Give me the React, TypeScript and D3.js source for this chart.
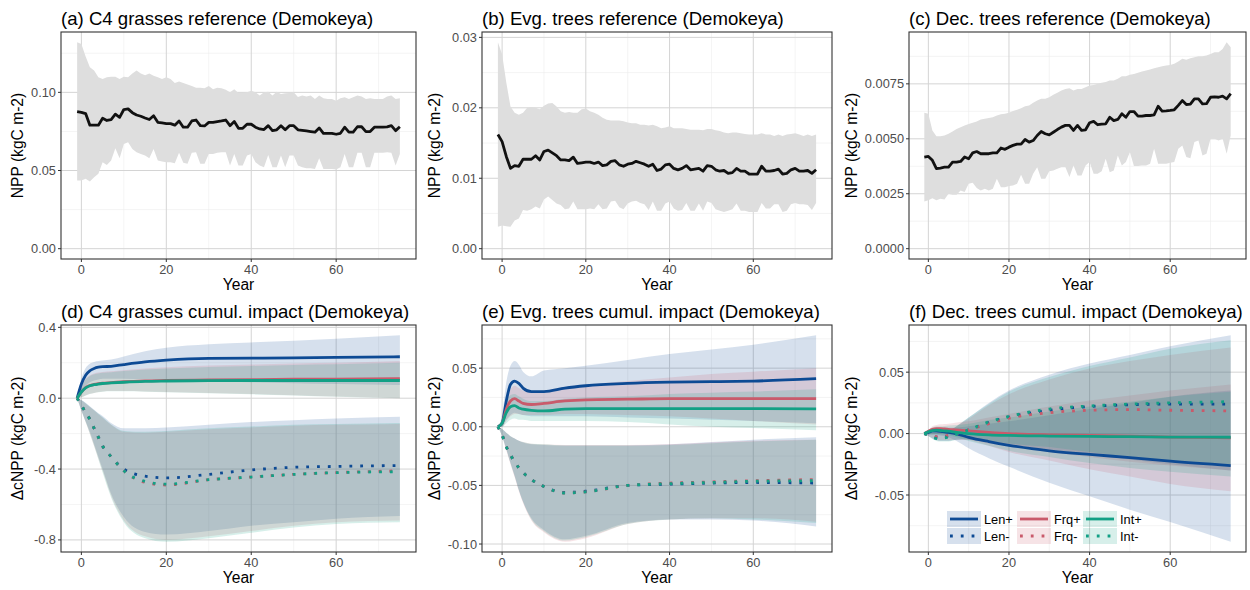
import React from 'react'
import * as d3 from 'd3'

// ---- reference NPP (top row), one value per year -1..75 ----
const years = d3.range(-1, 76)

const c4Mean = [0.0877, 0.0872, 0.0864, 0.079, 0.079, 0.079, 0.0834, 0.082, 0.0826, 0.086, 0.084, 0.089, 0.0894, 0.087, 0.0855, 0.0847, 0.0836, 0.0826, 0.085, 0.0808, 0.0804, 0.08, 0.08, 0.079, 0.0817, 0.0777, 0.0777, 0.0817, 0.0823, 0.0787, 0.0785, 0.0808, 0.0808, 0.0813, 0.0817, 0.0823, 0.0787, 0.0813, 0.077, 0.077, 0.0796, 0.0796, 0.0777, 0.0766, 0.0762, 0.0787, 0.0755, 0.076, 0.0787, 0.076, 0.0787, 0.0787, 0.076, 0.0757, 0.0753, 0.0749, 0.0745, 0.0772, 0.0738, 0.0738, 0.0738, 0.0732, 0.0738, 0.0777, 0.0745, 0.0745, 0.078, 0.078, 0.0749, 0.0749, 0.0777, 0.0777, 0.0777, 0.0779, 0.0787, 0.0755, 0.078]
const c4High = [0.132, 0.131, 0.123, 0.116, 0.114, 0.1096, 0.1085, 0.1096, 0.11, 0.11, 0.1085, 0.11, 0.1096, 0.112, 0.114, 0.112, 0.111, 0.112, 0.1106, 0.1096, 0.1085, 0.1096, 0.1085, 0.106, 0.107, 0.106, 0.105, 0.104, 0.103, 0.103, 0.1026, 0.104, 0.102, 0.103, 0.1026, 0.1017, 0.1, 0.102, 0.0996, 0.0996, 0.1, 0.101, 0.1, 0.098, 0.1, 0.1004, 0.098, 0.1004, 0.099, 0.0994, 0.0996, 0.1, 0.097, 0.098, 0.0974, 0.098, 0.0957, 0.098, 0.0962, 0.0957, 0.0957, 0.0947, 0.0962, 0.0968, 0.0957, 0.0968, 0.098, 0.0974, 0.0957, 0.0962, 0.0957, 0.0957, 0.0957, 0.0974, 0.098, 0.0957, 0.0962]
const c4Low = [0.0436, 0.0436, 0.0447, 0.043, 0.0457, 0.0479, 0.0553, 0.0536, 0.0564, 0.0643, 0.0579, 0.067, 0.068, 0.0638, 0.0617, 0.0606, 0.0596, 0.0579, 0.0638, 0.0564, 0.0557, 0.0553, 0.0553, 0.0547, 0.0613, 0.0549, 0.0543, 0.0613, 0.0617, 0.0543, 0.0543, 0.0606, 0.0606, 0.0613, 0.0617, 0.0617, 0.0532, 0.0606, 0.0532, 0.0532, 0.0596, 0.0606, 0.0553, 0.0532, 0.0521, 0.06, 0.0521, 0.0521, 0.0596, 0.0521, 0.0596, 0.0596, 0.0532, 0.0521, 0.0515, 0.0515, 0.051, 0.0579, 0.051, 0.051, 0.051, 0.0506, 0.0521, 0.0606, 0.0521, 0.0521, 0.0613, 0.0613, 0.0521, 0.0521, 0.0613, 0.0613, 0.0613, 0.0617, 0.0613, 0.0532, 0.0606]

const evgMean = [0.0162, 0.0152, 0.0131, 0.0114, 0.0118, 0.0117, 0.0127, 0.0127, 0.0127, 0.0132, 0.0126, 0.0138, 0.014, 0.0136, 0.0132, 0.0126, 0.0126, 0.0125, 0.013, 0.0121, 0.0122, 0.0123, 0.0123, 0.0121, 0.0123, 0.0118, 0.0119, 0.0124, 0.0125, 0.0119, 0.0117, 0.012, 0.0121, 0.0124, 0.0122, 0.012, 0.0117, 0.012, 0.0111, 0.0113, 0.0119, 0.012, 0.0114, 0.0112, 0.0114, 0.0118, 0.0112, 0.0113, 0.0114, 0.011, 0.0118, 0.0117, 0.0112, 0.011, 0.0111, 0.0107, 0.0108, 0.0114, 0.011, 0.011, 0.0106, 0.0106, 0.0106, 0.0117, 0.011, 0.011, 0.0111, 0.0113, 0.0106, 0.0107, 0.0112, 0.0114, 0.011, 0.011, 0.0111, 0.0107, 0.0112]
const evgHigh = [0.0293, 0.0276, 0.0236, 0.0202, 0.0193, 0.019, 0.0193, 0.02, 0.0201, 0.02, 0.0198, 0.0203, 0.0206, 0.0207, 0.0202, 0.0195, 0.0193, 0.0194, 0.0193, 0.0193, 0.0198, 0.0199, 0.0195, 0.0193, 0.019, 0.0186, 0.0183, 0.0182, 0.0182, 0.0182, 0.0181, 0.0179, 0.0178, 0.0178, 0.0176, 0.0176, 0.0175, 0.0176, 0.0174, 0.0171, 0.0172, 0.0174, 0.0171, 0.0171, 0.0171, 0.017, 0.0169, 0.0169, 0.0169, 0.0168, 0.017, 0.017, 0.0168, 0.0167, 0.0165, 0.0164, 0.0165, 0.0165, 0.0164, 0.0163, 0.0162, 0.0162, 0.0162, 0.0164, 0.0162, 0.0162, 0.016, 0.0162, 0.016, 0.0162, 0.0163, 0.0164, 0.0162, 0.016, 0.0162, 0.016, 0.0162]
const evgLow = [0.0031, 0.0033, 0.0032, 0.0031, 0.004, 0.0043, 0.0055, 0.0054, 0.0056, 0.006, 0.0057, 0.007, 0.0074, 0.0069, 0.0064, 0.0062, 0.0056, 0.0057, 0.0067, 0.0056, 0.0056, 0.0056, 0.0057, 0.0056, 0.0063, 0.0056, 0.0057, 0.0067, 0.0068, 0.0059, 0.0056, 0.0064, 0.0067, 0.0068, 0.0065, 0.0063, 0.0055, 0.0067, 0.0054, 0.0054, 0.0064, 0.0067, 0.0057, 0.0054, 0.0055, 0.0065, 0.0054, 0.0054, 0.0064, 0.0054, 0.0067, 0.0065, 0.0056, 0.0054, 0.0052, 0.0054, 0.0056, 0.0064, 0.0054, 0.0054, 0.0052, 0.0052, 0.0052, 0.0065, 0.0057, 0.0057, 0.0063, 0.0063, 0.0052, 0.0054, 0.0063, 0.0065, 0.0063, 0.0063, 0.0062, 0.0055, 0.0065]

const decMean = [0.00417, 0.0042, 0.00402, 0.00364, 0.00367, 0.00371, 0.00371, 0.00394, 0.00394, 0.00397, 0.00417, 0.00409, 0.00436, 0.00442, 0.00432, 0.00432, 0.00432, 0.00436, 0.00436, 0.00458, 0.00452, 0.00462, 0.0047, 0.00476, 0.00476, 0.00497, 0.00485, 0.00492, 0.00515, 0.00533, 0.00523, 0.00518, 0.0053, 0.00542, 0.00553, 0.00561, 0.00561, 0.00538, 0.00561, 0.00538, 0.00541, 0.00573, 0.00579, 0.00564, 0.00567, 0.00568, 0.00598, 0.00583, 0.00588, 0.00614, 0.00598, 0.00624, 0.00624, 0.00603, 0.00603, 0.00606, 0.00606, 0.00609, 0.00648, 0.00626, 0.00627, 0.00629, 0.00632, 0.00652, 0.00674, 0.00656, 0.00658, 0.00682, 0.00682, 0.00659, 0.0066, 0.00689, 0.00691, 0.00689, 0.00694, 0.00682, 0.00705]
const decHigh = [0.00618, 0.00614, 0.00538, 0.00512, 0.00512, 0.00515, 0.00523, 0.00533, 0.00545, 0.00553, 0.00561, 0.00567, 0.00573, 0.00579, 0.00588, 0.00591, 0.00595, 0.00598, 0.00606, 0.00612, 0.00614, 0.00618, 0.00627, 0.00632, 0.00639, 0.00648, 0.00652, 0.00664, 0.00674, 0.00682, 0.00682, 0.00689, 0.007, 0.00709, 0.0072, 0.00727, 0.0073, 0.0072, 0.00727, 0.00727, 0.00735, 0.00742, 0.00745, 0.0075, 0.00755, 0.00758, 0.00765, 0.00765, 0.00773, 0.00785, 0.00785, 0.00791, 0.00795, 0.008, 0.00806, 0.00811, 0.00815, 0.00821, 0.00826, 0.0083, 0.00833, 0.00836, 0.00841, 0.00852, 0.00864, 0.0086, 0.00867, 0.00871, 0.00876, 0.00876, 0.00879, 0.00886, 0.00894, 0.00894, 0.00909, 0.00939, 0.00917]
const decLow = [0.00215, 0.0022, 0.0023, 0.0022, 0.00227, 0.00224, 0.0025, 0.00245, 0.00245, 0.00265, 0.00258, 0.00295, 0.003, 0.00276, 0.00265, 0.00273, 0.00265, 0.00273, 0.00318, 0.0028, 0.0028, 0.00285, 0.00288, 0.00295, 0.00336, 0.00295, 0.00295, 0.00341, 0.00371, 0.00318, 0.00318, 0.00352, 0.00356, 0.00364, 0.00371, 0.00371, 0.00326, 0.00379, 0.00333, 0.00333, 0.00379, 0.00394, 0.00341, 0.00341, 0.00352, 0.00409, 0.00348, 0.00356, 0.00424, 0.00379, 0.00394, 0.00439, 0.00376, 0.00376, 0.00379, 0.00379, 0.00386, 0.00455, 0.00386, 0.00386, 0.00386, 0.00391, 0.00394, 0.00455, 0.0047, 0.00417, 0.00412, 0.00485, 0.00492, 0.00424, 0.00432, 0.005, 0.005, 0.00492, 0.005, 0.00432, 0.00515]

// ---- cumulative impact (bottom row), sampled at these years ----
const impactYears = [-1, 0, 1, 2, 3, 4, 5, 7, 10, 15, 20, 30, 40, 50, 60, 75]

const scenarios = ['Len+', 'Len-', 'Frq+', 'Frq-', 'Int+', 'Int-']

// C4 grasses
const c4LenPlus = [0, 0.08, 0.13, 0.155, 0.168, 0.175, 0.178, 0.18, 0.19, 0.205, 0.215, 0.225, 0.226, 0.228, 0.23, 0.234]
const c4LenPlusLo = [0, 0.04, 0.07, 0.09, 0.1, 0.105, 0.11, 0.11, 0.11, 0.105, 0.1, 0.095, 0.09, 0.085, 0.08, 0.075]
const c4LenPlusHi = [0, 0.11, 0.17, 0.195, 0.205, 0.21, 0.213, 0.218, 0.235, 0.265, 0.285, 0.305, 0.315, 0.325, 0.335, 0.355]
const c4LenMinus = [0, -0.04, -0.08, -0.12, -0.17, -0.22, -0.27, -0.33, -0.4, -0.44, -0.45, -0.43, -0.405, -0.39, -0.385, -0.38]
const c4LenMinusLo = [0, -0.07, -0.13, -0.19, -0.26, -0.33, -0.4, -0.54, -0.67, -0.755, -0.77, -0.75, -0.72, -0.7, -0.68, -0.665]
const c4LenMinusHi = [0, -0.01, -0.025, -0.045, -0.065, -0.085, -0.1, -0.14, -0.17, -0.17, -0.165, -0.15, -0.135, -0.125, -0.115, -0.105]
const c4FrqPlus = [0, 0.035, 0.06, 0.072, 0.078, 0.082, 0.085, 0.088, 0.093, 0.098, 0.1, 0.103, 0.105, 0.107, 0.108, 0.11]
const c4FrqPlusLo = [0, 0.005, 0.015, 0.025, 0.03, 0.035, 0.038, 0.04, 0.04, 0.038, 0.035, 0.03, 0.024, 0.016, 0.009, 0]
const c4FrqPlusHi = [0, 0.07, 0.11, 0.13, 0.14, 0.145, 0.148, 0.152, 0.158, 0.168, 0.175, 0.185, 0.19, 0.196, 0.2, 0.21]
const c4FrqMinus = [0, -0.04, -0.08, -0.12, -0.17, -0.22, -0.27, -0.33, -0.41, -0.475, -0.49, -0.46, -0.445, -0.43, -0.42, -0.41]
const c4FrqMinusLo = [0, -0.07, -0.135, -0.2, -0.27, -0.34, -0.41, -0.55, -0.69, -0.78, -0.8, -0.78, -0.75, -0.72, -0.7, -0.69]
const c4FrqMinusHi = [0, -0.012, -0.03, -0.05, -0.07, -0.09, -0.11, -0.15, -0.19, -0.195, -0.19, -0.175, -0.165, -0.155, -0.15, -0.145]
const c4IntPlus = [0, 0.035, 0.058, 0.07, 0.076, 0.08, 0.083, 0.086, 0.09, 0.095, 0.097, 0.099, 0.1, 0.1, 0.1, 0.1]
const c4IntPlusLo = [0, 0.005, 0.015, 0.024, 0.03, 0.034, 0.037, 0.039, 0.039, 0.037, 0.034, 0.028, 0.022, 0.015, 0.008, 0]
const c4IntPlusHi = [0, 0.068, 0.105, 0.125, 0.135, 0.14, 0.143, 0.147, 0.153, 0.162, 0.168, 0.176, 0.182, 0.188, 0.192, 0.2]
const c4IntMinus = [0, -0.04, -0.08, -0.12, -0.17, -0.22, -0.27, -0.33, -0.41, -0.47, -0.485, -0.46, -0.445, -0.43, -0.42, -0.415]
const c4IntMinusLo = [0, -0.07, -0.135, -0.2, -0.27, -0.345, -0.42, -0.56, -0.7, -0.79, -0.81, -0.79, -0.76, -0.73, -0.71, -0.7]
const c4IntMinusHi = [0, -0.012, -0.028, -0.048, -0.068, -0.088, -0.108, -0.148, -0.185, -0.19, -0.185, -0.17, -0.16, -0.15, -0.145, -0.14]

// Evergreen trees
const evgLenPlus = [0, 0.003, 0.022, 0.036, 0.039, 0.037, 0.033, 0.03, 0.03, 0.033, 0.035, 0.037, 0.038, 0.0385, 0.039, 0.041]
const evgLenPlusLo = [0, 0, 0.006, 0.01, 0.012, 0.011, 0.01, 0.009, 0.009, 0.009, 0.009, 0.008, 0.007, 0.006, 0.005, 0.003]
const evgLenPlusHi = [0, 0.01, 0.038, 0.052, 0.056, 0.053, 0.047, 0.043, 0.048, 0.05, 0.052, 0.057, 0.062, 0.066, 0.07, 0.078]
const evgLenMinus = [0, -0.007, -0.017, -0.024, -0.03, -0.035, -0.039, -0.045, -0.051, -0.056, -0.055, -0.05, -0.049, -0.048, -0.0475, -0.048]
const evgLenMinusLo = [0, -0.008, -0.019, -0.031, -0.042, -0.054, -0.064, -0.078, -0.088, -0.096, -0.093, -0.082, -0.079, -0.079, -0.08, -0.085]
const evgLenMinusHi = [0, -0.002, -0.005, -0.008, -0.01, -0.012, -0.0135, -0.015, -0.0155, -0.016, -0.016, -0.016, -0.015, -0.013, -0.011, -0.009]
const evgFrqPlus = [0, 0.003, 0.015, 0.022, 0.024, 0.022, 0.02, 0.019, 0.02, 0.022, 0.023, 0.0235, 0.024, 0.024, 0.024, 0.024]
const evgFrqPlusLo = [0, 0, 0.005, 0.009, 0.011, 0.011, 0.01, 0.01, 0.01, 0.011, 0.011, 0.01, 0.009, 0.007, 0.005, 0.002]
const evgFrqPlusHi = [0, 0.006, 0.024, 0.032, 0.035, 0.033, 0.031, 0.03, 0.031, 0.034, 0.036, 0.039, 0.042, 0.045, 0.047, 0.05]
const evgFrqMinus = [0, -0.007, -0.017, -0.024, -0.03, -0.035, -0.039, -0.045, -0.051, -0.0565, -0.0555, -0.05, -0.048, -0.047, -0.046, -0.045]
const evgFrqMinusLo = [0, -0.008, -0.02, -0.032, -0.043, -0.055, -0.065, -0.08, -0.09, -0.098, -0.095, -0.083, -0.079, -0.078, -0.078, -0.081]
const evgFrqMinusHi = [0, -0.002, -0.005, -0.008, -0.01, -0.012, -0.013, -0.0145, -0.015, -0.0155, -0.0155, -0.0155, -0.015, -0.0135, -0.012, -0.011]
const evgIntPlus = [0, 0.003, 0.012, 0.017, 0.018, 0.016, 0.015, 0.014, 0.0135, 0.015, 0.0155, 0.0155, 0.0155, 0.0155, 0.0155, 0.0152]
const evgIntPlusLo = [0, 0, 0.003, 0.006, 0.007, 0.006, 0.006, 0.005, 0.005, 0.005, 0.005, 0.004, 0.002, 0, -0.001, -0.003]
const evgIntPlusHi = [0, 0.005, 0.02, 0.027, 0.028, 0.026, 0.024, 0.022, 0.022, 0.024, 0.025, 0.026, 0.028, 0.029, 0.03, 0.032]
const evgIntMinus = [0, -0.007, -0.017, -0.024, -0.03, -0.035, -0.039, -0.045, -0.051, -0.0565, -0.0555, -0.05, -0.0485, -0.0475, -0.0465, -0.046]
const evgIntMinusLo = [0, -0.008, -0.019, -0.031, -0.042, -0.054, -0.064, -0.079, -0.089, -0.097, -0.094, -0.083, -0.079, -0.078, -0.079, -0.082]
const evgIntMinusHi = [0, -0.002, -0.005, -0.008, -0.01, -0.012, -0.013, -0.0145, -0.015, -0.016, -0.016, -0.016, -0.0155, -0.014, -0.0125, -0.011]

// Deciduous trees
const decLenPlus = [0, 0.001, 0.002, 0.002, 0.0018, 0.0015, 0.001, -0.0002, -0.003, -0.0065, -0.0095, -0.014, -0.017, -0.0195, -0.0225, -0.026]
const decLenPlusLo = [0, -0.001, -0.001, -0.001, -0.0015, -0.002, -0.003, -0.006, -0.012, -0.02, -0.027, -0.04, -0.051, -0.062, -0.072, -0.088]
const decLenPlusHi = [0, 0.002, 0.004, 0.004, 0.0045, 0.005, 0.005, 0.005, 0.006, 0.008, 0.01, 0.015, 0.02, 0.025, 0.03, 0.035]
const decLenMinus = [0, -0.001, -0.002, -0.003, -0.003, -0.0025, -0.002, 0, 0.003, 0.009, 0.0135, 0.019, 0.022, 0.0235, 0.024, 0.024]
const decLenMinusLo = [0, -0.002, -0.004, -0.0055, -0.006, -0.006, -0.006, -0.005, -0.005, -0.007, -0.009, -0.013, -0.017, -0.021, -0.025, -0.03]
const decLenMinusHi = [0, 0.0005, 0.0005, 0.0005, 0.001, 0.0015, 0.002, 0.006, 0.013, 0.025, 0.035, 0.048, 0.057, 0.064, 0.071, 0.08]
const decFrqPlus = [0, 0.002, 0.0035, 0.004, 0.004, 0.0038, 0.0035, 0.003, 0.0022, 0.001, 0, -0.001, -0.0015, -0.002, -0.0028, -0.0035]
const decFrqPlusLo = [0, 0, 0, 0, 0, 0, -0.0005, -0.002, -0.005, -0.01, -0.015, -0.022, -0.029, -0.035, -0.041, -0.047]
const decFrqPlusHi = [0, 0.003, 0.006, 0.007, 0.0075, 0.0078, 0.008, 0.009, 0.01, 0.013, 0.016, 0.022, 0.027, 0.031, 0.035, 0.04]
const decFrqMinus = [0, -0.001, -0.002, -0.0025, -0.0025, -0.002, -0.0015, 0, 0.003, 0.008, 0.0125, 0.017, 0.019, 0.0195, 0.019, 0.0185]
const decFrqMinusLo = [0, -0.002, -0.0035, -0.005, -0.0055, -0.0055, -0.0055, -0.005, -0.005, -0.008, -0.01, -0.015, -0.019, -0.023, -0.026, -0.03]
const decFrqMinusHi = [0, 0.0005, 0.0008, 0.001, 0.0015, 0.002, 0.0025, 0.006, 0.012, 0.023, 0.032, 0.044, 0.053, 0.059, 0.064, 0.07]
const decIntPlus = [0, 0.0015, 0.0025, 0.0028, 0.0025, 0.0022, 0.002, 0.001, 0, -0.001, -0.0015, -0.002, -0.0023, -0.0025, -0.0028, -0.003]
const decIntPlusLo = [0, 0, 0, -0.0003, -0.0005, -0.001, -0.0015, -0.003, -0.006, -0.01, -0.014, -0.019, -0.024, -0.028, -0.031, -0.035]
const decIntPlusHi = [0, 0.003, 0.005, 0.006, 0.006, 0.0062, 0.0065, 0.007, 0.008, 0.011, 0.013, 0.018, 0.022, 0.026, 0.03, 0.034]
const decIntMinus = [0, -0.0015, -0.003, -0.004, -0.004, -0.0035, -0.003, -0.0005, 0.003, 0.0095, 0.014, 0.02, 0.0225, 0.024, 0.025, 0.026]
const decIntMinusLo = [0, -0.002, -0.0045, -0.006, -0.0065, -0.0065, -0.0065, -0.005, -0.004, -0.006, -0.008, -0.011, -0.015, -0.019, -0.022, -0.025]
const decIntMinusHi = [0, 0.0005, 0.0005, 0.0005, 0.001, 0.0015, 0.002, 0.006, 0.013, 0.024, 0.034, 0.046, 0.055, 0.062, 0.069, 0.076]

const xTicks = [0, 20, 40, 60]
const xMinor = [10, 30, 50, 70]

const FONT = '"Liberation Sans", Arial, Helvetica, sans-serif'
const COLORS: Record<string, string> = { Len: '#0d4a94', Frq: '#c95a6b', Int: '#12a085' }
const RIBBON_ALPHA = 0.17

type Box = { x0: number; x1: number; y0: number; y1: number }

// ggplot-like 5% expansion
function expand(lo: number, hi: number) {
  const pad = (hi - lo) * 0.05
  return [lo - pad, hi + pad]
}

function Panel({ box, title, yTitle, yTitleX, yTicks, yMinor, yFmt, yDomain, children }: any) {
  const x = d3.scaleLinear().domain(expand(-1, 75)).range([box.x0, box.x1])
  const y = d3.scaleLinear().domain(yDomain).range([box.y1, box.y0])
  const inY = (v: number) => v >= yDomain[0] && v <= yDomain[1]
  const cx = (box.x0 + box.x1) / 2
  const cy = (box.y0 + box.y1) / 2
  return (
    <g>
      <rect x={box.x0} y={box.y0} width={box.x1 - box.x0} height={box.y1 - box.y0} fill="#fff" />
      {yMinor.filter(inY).map((v: number) => (
        <line key={'ym' + v} x1={box.x0} x2={box.x1} y1={y(v)} y2={y(v)} stroke="#ececec" strokeWidth={0.6} />
      ))}
      {xMinor.map((v) => (
        <line key={'xm' + v} x1={x(v)} x2={x(v)} y1={box.y0} y2={box.y1} stroke="#ececec" strokeWidth={0.6} />
      ))}
      {yTicks.map((v: number) => (
        <line key={'yM' + v} x1={box.x0} x2={box.x1} y1={y(v)} y2={y(v)} stroke="#d4d4d4" strokeWidth={1} />
      ))}
      {xTicks.map((v) => (
        <line key={'xM' + v} x1={x(v)} x2={x(v)} y1={box.y0} y2={box.y1} stroke="#d4d4d4" strokeWidth={1} />
      ))}
      {children(x, y)}
      <rect x={box.x0} y={box.y0} width={box.x1 - box.x0} height={box.y1 - box.y0} fill="none" stroke="#333" strokeWidth={1.1} />
      {yTicks.map((v: number) => (
        <g key={'yt' + v}>
          <line x1={box.x0 - 3} x2={box.x0} y1={y(v)} y2={y(v)} stroke="#333" />
          <text x={box.x0 - 5} y={y(v) + 4.5} textAnchor="end" fontSize={12.8} fill="#4d4d4d">{yFmt(v)}</text>
        </g>
      ))}
      {xTicks.map((v) => (
        <g key={'xt' + v}>
          <line x1={x(v)} x2={x(v)} y1={box.y1} y2={box.y1 + 3} stroke="#333" />
          <text x={x(v)} y={box.y1 + 15} textAnchor="middle" fontSize={12.8} fill="#4d4d4d">{v}</text>
        </g>
      ))}
      <text x={cx} y={box.y1 + 31} textAnchor="middle" fontSize={15.6}>Year</text>
      <text transform={`translate(${box.x0 - yTitleX + 5},${cy}) rotate(-90)`} textAnchor="middle" fontSize={15.6}>{yTitle}</text>
      <text x={box.x0} y={box.y0 - 7} fontSize={18.6}>{title}</text>
    </g>
  )
}

function RefPanel({ box, title, mean, lo, hi, yTicks, yMinor, yFmt }: any) {
  const yDomain = expand(0, d3.max(hi) as number)
  return (
    <Panel box={box} title={title} yTitle="NPP (kgC m-2)" yTitleX={box.yTitleX} yTicks={yTicks} yMinor={yMinor} yFmt={yFmt} yDomain={yDomain}>
      {(x: any, y: any) => {
        const area = d3.area<number>().x((_, i) => x(years[i])).y0((_, i) => y(lo[i])).y1((_, i) => y(hi[i]))
        const line = d3.line<number>().x((_, i) => x(years[i])).y((d) => y(d))
        return (
          <g>
            <path d={area(mean) || ''} fill="#dedede" />
            <path d={line(mean) || ''} fill="none" stroke="#111" strokeWidth={2.8} strokeLinejoin="round" />
          </g>
        )
      }}
    </Panel>
  )
}

function ImpactPanel({ box, title, series, yTicks, yMinor, yFmt, legend }: any) {
  const all = series.flatMap((s: any) => [...s.lo, ...s.hi])
  const yDomain = expand(d3.min(all) as number, d3.max(all) as number)
  return (
    <Panel box={box} title={title} yTitle={'ΔcNPP (kgC m-2)'} yTitleX={box.yTitleX} yTicks={yTicks} yMinor={yMinor} yFmt={yFmt} yDomain={yDomain}>
      {(x: any, y: any) => {
        const area = (lo: number[], hi: number[]) =>
          d3.area<number>().curve(d3.curveMonotoneX).x((_, i) => x(impactYears[i])).y0((_, i) => y(lo[i])).y1((_, i) => y(hi[i]))(lo) || ''
        const line = d3.line<number>().curve(d3.curveMonotoneX).x((_, i) => x(impactYears[i])).y((d) => y(d))
        return (
          <g>
            {series.map((s: any) => (
              <path key={'r' + s.name} d={area(s.lo, s.hi)} fill={COLORS[s.group]} fillOpacity={RIBBON_ALPHA} />
            ))}
            {series.map((s: any) => (
              <path key={'l' + s.name} d={line(s.mean) || ''} fill="none" stroke={COLORS[s.group]} strokeWidth={2.8}
                strokeDasharray={s.minus ? '2.8 8' : undefined} strokeLinejoin="round" />
            ))}
            {legend && <Legend box={box} />}
          </g>
        )
      }}
    </Panel>
  )
}

function Legend({ box }: { box: Box }) {
  const left = box.x0 + 38
  const top = box.y1 - 41
  const colW = [70, 66, 66]
  const keyW = 34
  const keyH = 16
  let cx = left
  const cols = ['Len', 'Frq', 'Int'].map((g, ci) => {
    const gx = cx
    cx += colW[ci]
    return (
      <g key={g}>
        {['+', '-'].map((sign, ri) => {
          const ky = top + ri * (keyH + 1)
          return (
            <g key={sign}>
              <rect x={gx} y={ky} width={keyW} height={keyH} fill={COLORS[g]} fillOpacity={RIBBON_ALPHA} />
              <line x1={gx + 3} x2={gx + keyW - 3} y1={ky + keyH / 2} y2={ky + keyH / 2} stroke={COLORS[g]} strokeWidth={2.8}
                strokeDasharray={sign === '-' ? '2.8 8' : undefined} />
              <text x={gx + keyW + 3} y={ky + keyH / 2 + 4.5} fontSize={12.8}>{g + sign}</text>
            </g>
          )
        })}
      </g>
    )
  })
  return <g>{cols}</g>
}

function mk(name: string, mean: number[], lo: number[], hi: number[]) {
  return { name, group: name.slice(0, 3), minus: name.endsWith('-'), mean, lo, hi }
}

const c4Series = [
  mk(scenarios[0], c4LenPlus, c4LenPlusLo, c4LenPlusHi),
  mk(scenarios[1], c4LenMinus, c4LenMinusLo, c4LenMinusHi),
  mk(scenarios[2], c4FrqPlus, c4FrqPlusLo, c4FrqPlusHi),
  mk(scenarios[3], c4FrqMinus, c4FrqMinusLo, c4FrqMinusHi),
  mk(scenarios[4], c4IntPlus, c4IntPlusLo, c4IntPlusHi),
  mk(scenarios[5], c4IntMinus, c4IntMinusLo, c4IntMinusHi),
]
const evgSeries = [
  mk(scenarios[0], evgLenPlus, evgLenPlusLo, evgLenPlusHi),
  mk(scenarios[1], evgLenMinus, evgLenMinusLo, evgLenMinusHi),
  mk(scenarios[2], evgFrqPlus, evgFrqPlusLo, evgFrqPlusHi),
  mk(scenarios[3], evgFrqMinus, evgFrqMinusLo, evgFrqMinusHi),
  mk(scenarios[4], evgIntPlus, evgIntPlusLo, evgIntPlusHi),
  mk(scenarios[5], evgIntMinus, evgIntMinusLo, evgIntMinusHi),
]
const decSeries = [
  mk(scenarios[0], decLenPlus, decLenPlusLo, decLenPlusHi),
  mk(scenarios[1], decLenMinus, decLenMinusLo, decLenMinusHi),
  mk(scenarios[2], decFrqPlus, decFrqPlusLo, decFrqPlusHi),
  mk(scenarios[3], decFrqMinus, decFrqMinusLo, decFrqMinusHi),
  mk(scenarios[4], decIntPlus, decIntPlusLo, decIntPlusHi),
  mk(scenarios[5], decIntMinus, decIntMinusLo, decIntMinusHi),
]

export default function App() {
  const f2 = d3.format('.2f')
  const f1 = d3.format('.1f')
  const f4 = d3.format('.4f')
  const hy = (fmt: any) => (v: number) => fmt(v).replace('−', '-')
  const top = { y0: 32, y1: 259 }
  const bot = { y0: 325, y1: 552 }
  const colA = { x0: 61, x1: 416, yTitleX: 43 }
  const colB = { x0: 482, x1: 832, yTitleX: 47 }
  const colC = { x0: 909, x1: 1246, yTitleX: 57 }
  return (
    <svg width={1250} height={590} style={{ position: 'absolute', left: 0, top: 0, fontFamily: FONT }}>
      <rect width={1250} height={590} fill="#fff" />
      <RefPanel box={{ ...colA, ...top }} title="(a) C4 grasses reference (Demokeya)" mean={c4Mean} lo={c4Low} hi={c4High}
        yTicks={[0, 0.05, 0.1]} yMinor={[0.025, 0.075, 0.125]} yFmt={hy(f2)} />
      <RefPanel box={{ ...colB, ...top }} title="(b) Evg. trees reference (Demokeya)" mean={evgMean} lo={evgLow} hi={evgHigh}
        yTicks={[0, 0.01, 0.02, 0.03]} yMinor={[0.005, 0.015, 0.025]} yFmt={hy(f2)} />
      <RefPanel box={{ ...colC, ...top }} title="(c) Dec. trees reference (Demokeya)" mean={decMean} lo={decLow} hi={decHigh}
        yTicks={[0, 0.0025, 0.005, 0.0075]} yMinor={[0.00125, 0.00375, 0.00625, 0.00875]} yFmt={hy(f4)} />
      <ImpactPanel box={{ ...colA, ...bot }} title="(d) C4 grasses cumul. impact (Demokeya)" series={c4Series}
        yTicks={[-0.8, -0.4, 0, 0.4]} yMinor={[-0.6, -0.2, 0.2]} yFmt={hy(f1)} />
      <ImpactPanel box={{ ...colB, ...bot }} title="(e) Evg. trees cumul. impact (Demokeya)" series={evgSeries}
        yTicks={[-0.1, -0.05, 0, 0.05]} yMinor={[-0.075, -0.025, 0.025, 0.075]} yFmt={hy(f2)} />
      <ImpactPanel box={{ ...colC, ...bot }} title="(f) Dec. trees cumul. impact (Demokeya)" series={decSeries}
        yTicks={[-0.05, 0, 0.05]} yMinor={[-0.075, -0.025, 0.025, 0.075]} yFmt={hy(f2)} legend />
    </svg>
  )
}
